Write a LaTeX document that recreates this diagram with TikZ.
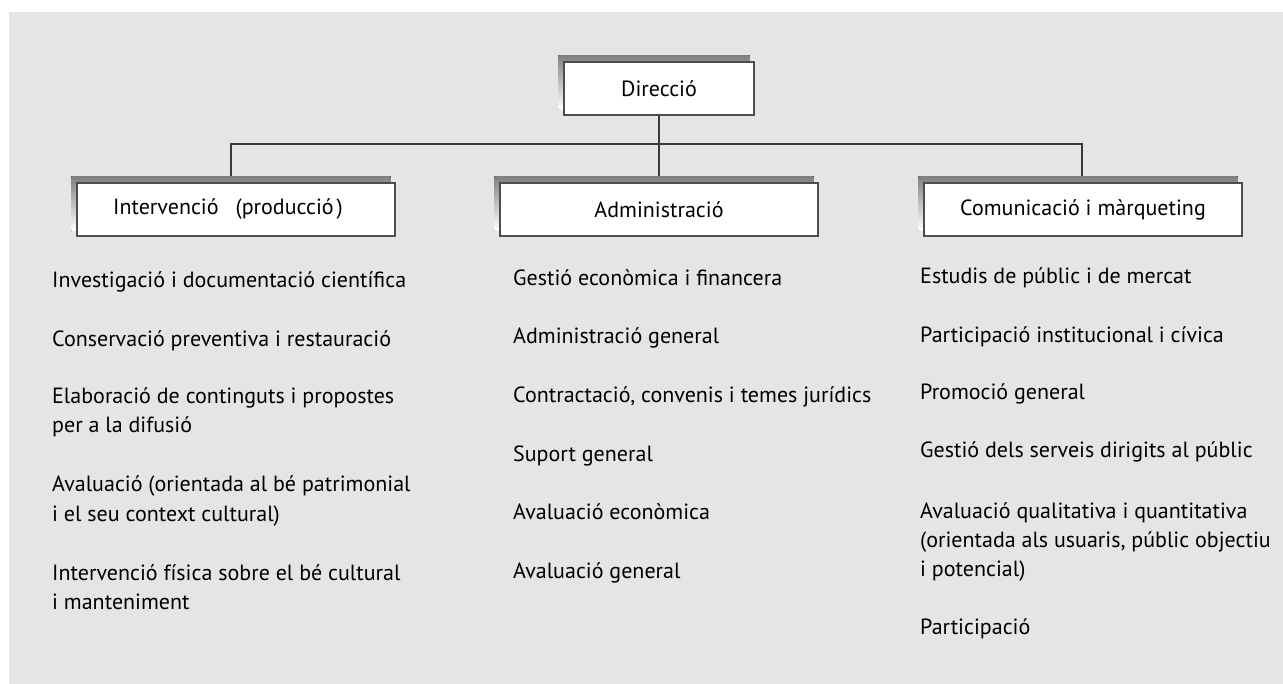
\documentclass[tikz,border=0pt]{standalone}
\usepackage{fontspec}
\setmainfont{PT Sans}
\pgfdeclarelayer{bg}
\pgfdeclarelayer{lines}
\pgfdeclarelayer{shadows}
\pgfsetlayers{bg,lines,shadows,main}
\definecolor{panel}{HTML}{E4E5E5}
\definecolor{shade}{HTML}{BDBEBE}
\definecolor{edge}{HTML}{4D4D4D}
\definecolor{conncol}{HTML}{3A3A3A}
\tikzset{
  unitbox/.style={draw=edge, line width=1.3pt, fill=white, inner sep=0pt,
    minimum width=318pt, minimum height=53pt, font=\fontsize{22}{29}\selectfont},
  item/.style={anchor=base west, align=left, inner sep=0pt,
    font=\fontsize{22}{29}\selectfont},
  conn/.style={draw=conncol, line width=1.2pt}
}
\begin{document}
\begin{tikzpicture}[x=1pt,y=-1pt]
\useasboundingbox (0,0) rectangle (1283,684);
\begin{pgfonlayer}{bg}
  \fill[panel] (9,12) rectangle (1283,684);
\end{pgfonlayer}

% boxes
\node[unitbox, minimum width=190pt] (dir) at (659,88.5) {Direcció};
\node[unitbox] (int) at (236,209.5) {Intervenció\kern17pt(producció\kern3pt)\kern16pt\relax};
\node[unitbox] (adm) at (659,209.5) {Administració};
\node[unitbox] (com) at (1083,209.5) {Comunicació i màrqueting};

% shadows
\begin{pgfonlayer}{shadows}
  \foreach \n in {dir,int,adm,com}{
    \fill[shade] ([shift={(-5,-6)}]\n.south west) rectangle ([shift={(-5,-6)}]\n.north east);
  }
\end{pgfonlayer}

% connectors
\coordinate (busy) at (0,144);
\begin{pgfonlayer}{lines}
  \draw[conn] (dir.south) -- (adm.north);
  \draw[conn] ([xshift=-5pt]int.north) |- (dir.south |- busy) -| ([xshift=-1pt]com.north);
\end{pgfonlayer}

% left column (base anchor = last line)
\node[item] (l1) at (52,288) {Investigació i documentació científica};
\node[item] (l2) at (52,347) {Conservació preventiva i restauració};
\node[item] (l3) at (52,433) {Elaboració de continguts i propostes\\per a la difusió};
\node[item] (l4) at (52,521) {Avaluació (orientada al bé patrimonial\\i el seu context cultural)};
\node[item] (l5) at (52,609) {Intervenció física sobre el bé cultural\\i manteniment};

% middle column
\node[item] (m1) at (513,286) {Gestió econòmica i financera};
\node[item] (m2) at (513,344) {Administració general};
\node[item] (m3) at (513,403) {Contractació, convenis i temes jurídics};
\node[item] (m4) at (513,461) {Suport general};
\node[item] (m5) at (513,519) {Avaluació econòmica};
\node[item] (m6) at (513,578) {Avaluació general};

% right column
\node[item] (r1) at (920,284) {Estudis de públic i de mercat};
\node[item] (r2) at (920,343) {Participació institucional i cívica};
\node[item] (r3) at (920,400) {Promoció general};
\node[item] (r4) at (920,458) {Gestió dels serveis dirigits al públic};
\node[item] (r5) at (920,576) {Avaluació qualitativa i quantitativa\\(orientada als usuaris, públic objectiu\\i potencial)};
\node[item] (r6) at (920,634) {Participació};
\end{tikzpicture}
\end{document}
